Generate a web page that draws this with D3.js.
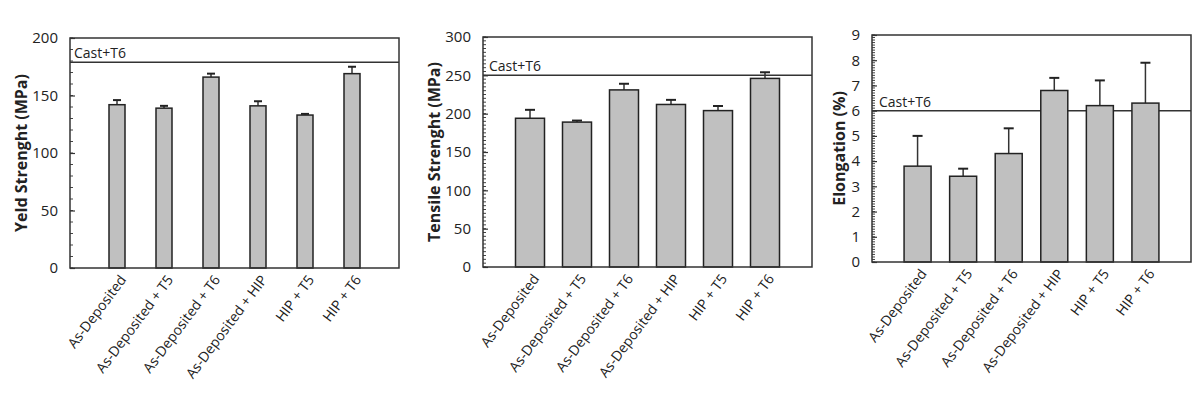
<!DOCTYPE html>
<html>
<head>
<meta charset="utf-8">
<script src="https://cdn.jsdelivr.net/npm/d3@7"></script>
<style>
  body { margin: 0; background: #fff; }
  svg { font-family: "Open Sans", "Noto Sans", sans-serif; }
</style>
</head>
<body>
<div id="chart"></div>
<script>
// treatments, same for the three panels
const categories = ["As-Deposited", "As-Deposited + T5", "As-Deposited + T6",
  "As-Deposited + HIP", "HIP + T5", "HIP + T6"]

// yield strength (MPa), upper error
const yieldValues = [142, 139, 166, 141, 133, 169]
const yieldErrors = [4, 2, 3, 4, 1, 6]
const yieldCast = 179

// tensile strength (MPa), upper error
const tensileValues = [194, 189, 231, 212, 204, 246]
const tensileErrors = [11, 2, 8, 6, 6, 8]
const tensileCast = 250

// elongation (%), upper error
const elongValues = [3.8, 3.4, 4.3, 6.8, 6.2, 6.3]
const elongErrors = [1.2, 0.3, 1.0, 0.5, 1.0, 1.6]
const elongCast = 6

const yieldTicks = [0, 50, 100, 150, 200]
const tensileTicks = [0, 50, 100, 150, 200, 250, 300]
const elongTicks = [0, 1, 2, 3, 4, 5, 6, 7, 8, 9]

const svg = d3.select("#chart").append("svg")
  .attr("width", 1200)
  .attr("height", 394)

const panels = [
  { left: 70, right: 399, top: 38, bottom: 268, max: 200, ticks: yieldTicks, minor: 10,
    values: yieldValues, errors: yieldErrors, cast: yieldCast, barW: 16, cap: 8,
    title: "Yeld Strenght (MPa)", titleX: 21, castX: 74 },
  { left: 483, right: 812, top: 37, bottom: 267, max: 300, ticks: tensileTicks, minor: 5,
    values: tensileValues, errors: tensileErrors, cast: tensileCast, barW: 29, cap: 10,
    title: "Tensile Strenght (MPa)", titleX: 434, castX: 489 },
  { left: 872, right: 1191, top: 35, bottom: 262, max: 9, ticks: elongTicks, minor: 0.1,
    values: elongValues, errors: elongErrors, cast: elongCast, barW: 27, cap: 10,
    title: "Elongation (%)", titleX: 839, castX: 879 }
]

panels.forEach(drawPanel)

function drawPanel(p) {
  const g = svg.append("g")

  const x = d3.scalePoint()
    .domain(categories)
    .range([p.left, p.right])
    .padding(1)

  const y = d3.scaleLinear()
    .domain([0, p.max])
    .range([p.bottom, p.top])

  // minor ticks, inward
  const minorTicks = d3.range(0, p.max + p.minor / 2, p.minor)
  g.selectAll(".minor")
    .data(minorTicks)
    .join("line")
      .attr("x1", p.left)
      .attr("x2", p.left + 3)
      .attr("y1", d => y(d))
      .attr("y2", d => y(d))
      .attr("stroke", "#444")
      .attr("stroke-width", 1)

  // major ticks + labels
  const yAxis = d3.axisLeft(y)
    .tickValues(p.ticks)
    .tickSize(-5)
    .tickPadding(12)
  const ax = g.append("g")
    .attr("transform", `translate(${p.left},0)`)
    .call(yAxis)
  ax.select(".domain").remove()
  ax.selectAll(".tick line").attr("stroke", "#333").attr("stroke-width", 1.2)
  ax.selectAll(".tick text")
    .attr("font-size", "15px")
    .attr("fill", "#222")
    .attr("font-family", "\"Open Sans\", sans-serif")

  // y title
  g.append("text")
    .attr("transform", `translate(${p.titleX},${(p.top + p.bottom) / 2}) rotate(-90)`)
    .attr("text-anchor", "middle")
    .attr("dy", "0.35em")
    .attr("font-size", "16px")
    .attr("font-weight", "bold")
    .attr("fill", "#222")
    .text(p.title)

  // reference line for cast + T6
  g.append("line")
    .attr("x1", p.left)
    .attr("x2", p.right)
    .attr("y1", y(p.cast))
    .attr("y2", y(p.cast))
    .attr("stroke", "#333")
    .attr("stroke-width", 1.5)

  g.append("text")
    .attr("x", p.castX)
    .attr("y", y(p.cast) - 4)
    .attr("font-size", "14px")
    .attr("fill", "#222")
    .text("Cast+T6")

  const data = categories.map((c, i) => ({ cat: c, v: p.values[i], e: p.errors[i] }))

  // error whiskers (upper only)
  g.selectAll(".err")
    .data(data)
    .join("line")
      .attr("x1", d => x(d.cat))
      .attr("x2", d => x(d.cat))
      .attr("y1", d => y(d.v))
      .attr("y2", d => y(d.v + d.e))
      .attr("stroke", "#333")
      .attr("stroke-width", 1.5)

  g.selectAll(".cap")
    .data(data)
    .join("line")
      .attr("x1", d => x(d.cat) - p.cap / 2)
      .attr("x2", d => x(d.cat) + p.cap / 2)
      .attr("y1", d => y(d.v + d.e))
      .attr("y2", d => y(d.v + d.e))
      .attr("stroke", "#222")
      .attr("stroke-width", 2)

  // bars
  g.selectAll(".bar")
    .data(data)
    .join("rect")
      .attr("x", d => x(d.cat) - p.barW / 2)
      .attr("width", p.barW)
      .attr("y", d => y(d.v))
      .attr("height", d => y(0) - y(d.v))
      .attr("fill", "#c0c0c0")
      .attr("stroke", "#222")
      .attr("stroke-width", 1.5)

  // frame
  g.append("rect")
    .attr("x", p.left)
    .attr("y", p.top)
    .attr("width", p.right - p.left)
    .attr("height", p.bottom - p.top)
    .attr("fill", "none")
    .attr("stroke", "#333")
    .attr("stroke-width", 1.5)

  // rotated category labels
  g.selectAll(".xlab")
    .data(categories)
    .join("text")
      .attr("transform", d => `translate(${x(d) + 6},${p.bottom + 9}) rotate(-53)`)
      .attr("text-anchor", "end")
      .attr("dy", "0.35em")
      .attr("font-size", "14px")
      .attr("fill", "#222")
      .text(d => d)
}
</script>
</body>
</html>
